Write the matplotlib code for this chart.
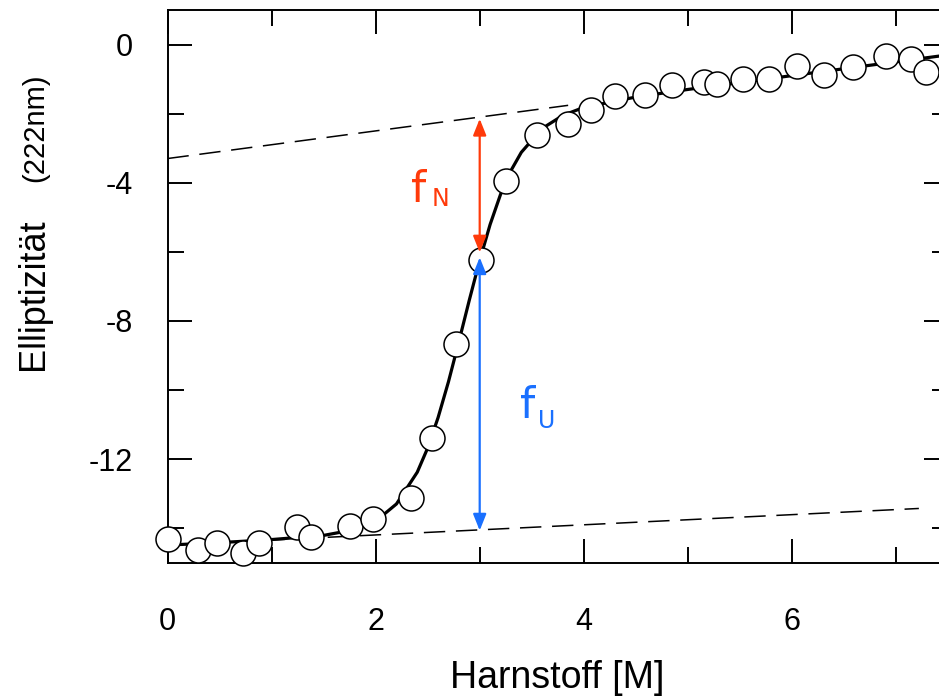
import matplotlib
matplotlib.use("Agg")
import matplotlib.pyplot as plt
from matplotlib.ticker import MultipleLocator

# ---------------- data ----------------
urea = [0.00, 0.29, 0.48, 0.73, 0.88, 1.24, 1.38, 1.75, 1.97, 2.34, 2.54, 2.77,
        3.01, 3.25, 3.55, 3.85, 4.07, 4.30, 4.59, 4.85, 5.16, 5.28, 5.53, 5.78,
        6.05, 6.31, 6.59, 6.90, 7.14, 7.29]
ellip = [-14.30, -14.62, -14.44, -14.72, -14.43, -13.98, -14.27, -13.95, -13.73,
         -13.14, -11.40, -8.66, -6.23, -3.95, -2.63, -2.29, -1.89, -1.48, -1.47,
         -1.18, -1.08, -1.14, -1.01, -1.00, -0.63, -0.89, -0.66, -0.33, -0.41, -0.80]

# fitted curve
fit_x = [0.0, 0.5, 1.0, 1.5, 1.8, 2.0, 2.2, 2.4, 2.5, 2.6, 2.7, 2.8, 2.9, 3.0,
         3.1, 3.2, 3.3, 3.4, 3.6, 3.8, 4.0, 4.5, 5.0, 5.5, 6.0, 6.5, 7.0, 7.5]
fit_y = [-14.49, -14.42, -14.33, -14.21, -14.04, -13.80, -13.30, -12.38, -11.68,
         -10.80, -9.76, -8.60, -7.40, -6.25, -5.21, -4.34, -3.65, -3.12, -2.43,
         -2.05, -1.82, -1.52, -1.30, -1.10, -0.90, -0.70, -0.50, -0.30]

# baselines (dashed)
upper_base_x = [0.0, 3.85]
upper_base_y = [-3.30, -1.76]
lower_base_x = [0.0, 7.22]
lower_base_y = [-14.49, -13.43]

# arrows at x = 3
arrow_x = 3.0
fN_range = [-2.15, -6.02]
fU_range = [-6.16, -14.07]

xticks = [0, 2, 4, 6]
yticks = [0, -4, -8, -12]

RED = "#ff3a0a"
BLUE = "#1a70ff"

plt.rcParams["font.family"] = ["Liberation Sans", "DejaVu Sans"]

fig = plt.figure(figsize=(9.39, 6.96), dpi=100)
W, H = 939, 696
x0_px, x1_px = 167.5, 948.0
ytop_px, ybot_px = 10.0, 562.7
ax = fig.add_axes([x0_px / W, (H - ybot_px) / H, (x1_px - x0_px) / W, (ybot_px - ytop_px) / H])

ax.set_xlim(0, 7.5)
ax.set_ylim(-15, 1)

# dashed baselines
ax.plot(upper_base_x, upper_base_y, color="black", lw=1.1, dashes=(14, 7), zorder=2)
ax.plot(lower_base_x, lower_base_y, color="black", lw=1.1, dashes=(14, 7), zorder=2)

# fit curve
ax.plot(fit_x, fit_y, color="black", lw=2.3, zorder=3, solid_capstyle="butt")

# data points
ax.plot(urea, ellip, linestyle="none", marker="o", ms=18, mfc="white",
        mec="black", mew=1.1, zorder=4, clip_on=False)

# arrows
ax.annotate("", xy=(arrow_x, fN_range[1]), xytext=(arrow_x, fN_range[0]),
            arrowprops=dict(arrowstyle="<|-|>,head_length=0.45,head_width=0.18",
                            mutation_scale=22, lw=1.6, color=RED,
                            shrinkA=0, shrinkB=0), zorder=5)
ax.annotate("", xy=(arrow_x, fU_range[1]), xytext=(arrow_x, fU_range[0]),
            arrowprops=dict(arrowstyle="<|-|>,head_length=0.45,head_width=0.18",
                            mutation_scale=22, lw=1.6, color=BLUE,
                            shrinkA=0, shrinkB=0), zorder=5)

# f_N / f_U labels
ax.text(2.34, -4.57, "f", color=RED, fontsize=31, family="DejaVu Sans",
        ha="left", va="baseline")
ax.text(2.535, -4.66, "N", color=RED, fontsize=17, family="DejaVu Sans",
        ha="left", va="baseline")
ax.text(3.385, -10.80, "f", color=BLUE, fontsize=31, family="DejaVu Sans",
        ha="left", va="baseline")
ax.text(3.56, -11.09, "U", color=BLUE, fontsize=17, family="DejaVu Sans",
        ha="left", va="baseline")

# ticks
ax.xaxis.set_major_locator(MultipleLocator(2))
ax.xaxis.set_minor_locator(MultipleLocator(1))
ax.yaxis.set_major_locator(MultipleLocator(4))
ax.yaxis.set_minor_locator(MultipleLocator(2))
ax.set_xticks(xticks)
ax.set_xticklabels([str(v) for v in xticks])
ax.set_yticks(yticks)
ax.set_yticklabels([str(v) for v in yticks])
ax.tick_params(which="both", direction="in", top=True, right=True, width=1.4,
               colors="black")
ax.tick_params(which="major", length=17.5, labelsize=22)
ax.tick_params(which="minor", length=11.5)
ax.tick_params(axis="x", which="major", pad=32)
ax.tick_params(axis="y", which="major", pad=25)
for s in ax.spines.values():
    s.set_linewidth(1.4)

# axis labels
fig.text(557 / W, (H - 688) / H, "Harnstoff [M]", fontsize=27,
         ha="center", va="baseline")
fig.text(43 / W, (H - 294) / H, "Elliptizität", fontsize=26, rotation=90,
         rotation_mode="anchor", ha="center", va="baseline")
fig.text(43 / W, (H - 128) / H, "(222nm)", fontsize=21, rotation=90,
         rotation_mode="anchor", ha="center", va="baseline")

fig.savefig("out.png", dpi=100)
